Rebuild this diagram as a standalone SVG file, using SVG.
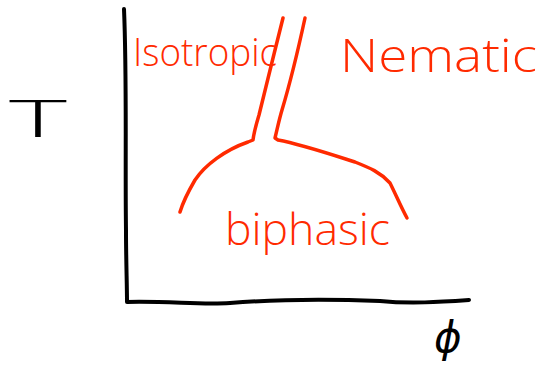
<svg xmlns="http://www.w3.org/2000/svg" width="539" height="368" viewBox="0 0 539 368">
<style>
.ax{fill:none;stroke:#000;stroke-width:4;stroke-linecap:round;stroke-linejoin:round}
.rd{fill:none;stroke:#ff2a00;stroke-width:3.5;stroke-linecap:round;stroke-linejoin:round}
.lbl{fill:#ff2a00;font-family:"Open Sans","Liberation Sans",Arial,sans-serif;font-weight:300}
.blk{fill:#000;font-family:"Open Sans","DejaVu Sans",sans-serif;font-weight:300}
</style>
<rect width="539" height="368" fill="#fff"/>
<g id="axes">
<path class="ax" d="M124,9 C127,80 125,160 126,230 C126,260 127,285 127,302 C170,301 200,305 230,303 C280,299 330,299 380,301 C410,304 440,302 469,300"/>
</g>
<g id="axis-labels">
<text class="blk" x="9" y="137" font-size="52" textLength="58" lengthAdjust="spacingAndGlyphs">T</text>
<text class="blk" x="434" y="352" font-size="42" font-style="italic" font-family="DejaVu Sans, sans-serif" font-weight="400">ϕ</text>
</g>
<g id="boundaries">
<path class="rd" d="M283,18 C275,50 265,90 259,115 C256,125 254,132 253,140 L248,142 C225,150 205,165 195,180 C188,192 183,202 180,212"/>
<path class="rd" d="M305,18 C297,55 288,90 282,110 C279,120 277,130 275,138 L278,140 C300,144 330,154 355,162 C370,168 380,172 390,183 C396,195 401,207 407,218"/>
</g>
<g id="Isotropic">
<text class="lbl" x="133" y="66" font-size="38" textLength="144" lengthAdjust="spacingAndGlyphs">Isotropic</text>
</g>
<g id="Nematic">
<text class="lbl" x="340" y="72" font-size="46" textLength="197" lengthAdjust="spacingAndGlyphs">Nematic</text>
</g>
<g id="biphasic">
<text class="lbl" x="225" y="245" font-size="44" textLength="165" lengthAdjust="spacingAndGlyphs">biphasic</text>
</g>
</svg>
